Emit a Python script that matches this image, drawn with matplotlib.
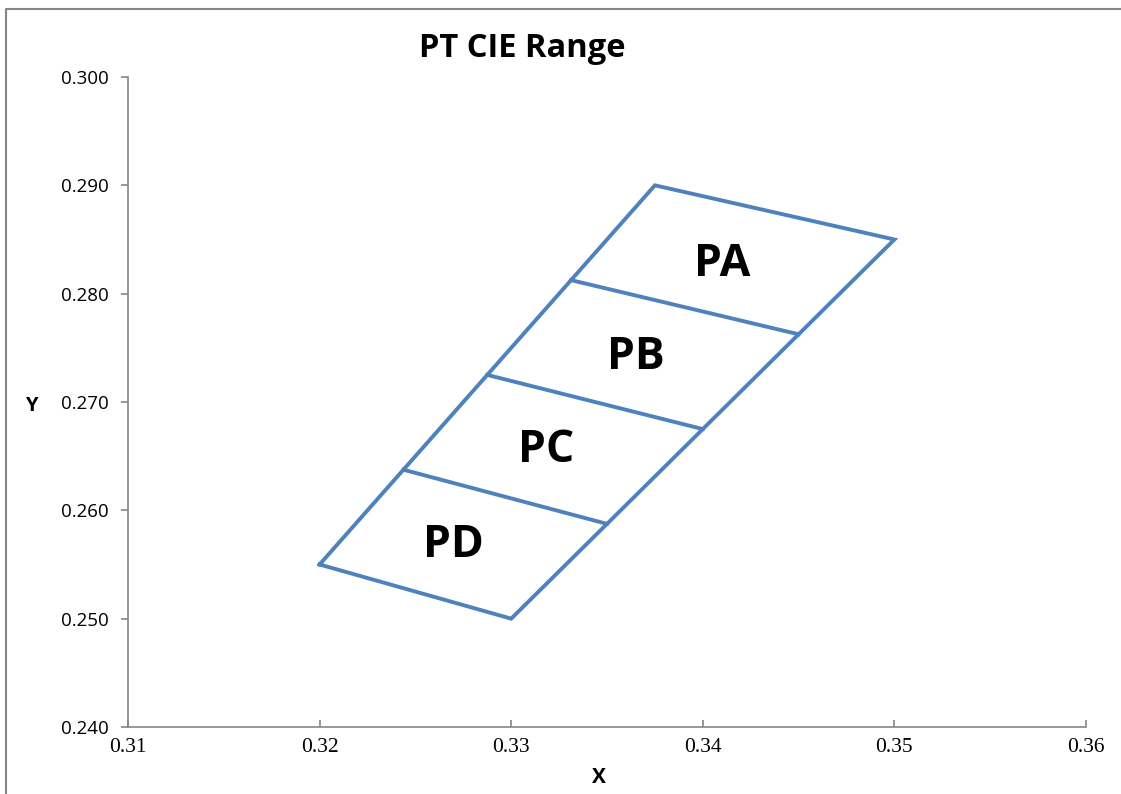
import numpy as np
import matplotlib.pyplot as plt
from matplotlib.lines import Line2D

# outline of the whole range, corners in CIE x, y
outerX = [0.32, 0.33, 0.35, 0.3375, 0.32]
outerY = [0.255, 0.250, 0.285, 0.290, 0.255]

# bin divider lines (left end -> right end)
divLeftX = [0.324375, 0.32875, 0.333125]
divLeftY = [0.26375, 0.2725, 0.28125]
divRightX = [0.335, 0.34, 0.345]
divRightY = [0.25875, 0.2675, 0.27625]

# bin names and where they are written (baseline)
binNames = ['PA', 'PB', 'PC', 'PD']
labelX = [0.3410, 0.3365, 0.3318, 0.3270]
labelY = [0.2816, 0.2730, 0.2645, 0.2557]

xTicks = [0.31, 0.32, 0.33, 0.34, 0.35, 0.36]
yTicks = [0.240, 0.250, 0.260, 0.270, 0.280, 0.290, 0.300]

lineColor = '#4F81BD'
axisColor = '#868686'

fig = plt.figure(figsize=(11.21, 7.94), dpi=100)
ax = fig.add_axes([128/1121, 1-727/794, (1086-128)/1121, (727-77)/794])

ax.plot(outerX, outerY, color=lineColor, lw=2.8, solid_joinstyle='miter')
for i in range(len(divLeftX)):
    ax.plot([divLeftX[i], divRightX[i]], [divLeftY[i], divRightY[i]], color=lineColor, lw=2.8)

for name, lx, ly in zip(binNames, labelX, labelY):
    ax.text(lx, ly, name, fontsize=32, fontweight='bold', family='Open Sans',
            ha='center', va='baseline')

ax.set_xlim(0.31, 0.36)
ax.set_ylim(0.240, 0.300)
ax.set_xticks(xTicks)
ax.set_yticks(yTicks)
ax.set_xticklabels(['%.2f' % v for v in xTicks], family='Liberation Serif', fontsize=15.5)
ax.set_yticklabels(['%.3f' % v for v in yTicks], family='Open Sans', fontsize=13.5)

for s in ['top', 'right']:
    ax.spines[s].set_visible(False)
for s in ['left', 'bottom']:
    ax.spines[s].set_color(axisColor)
    ax.spines[s].set_linewidth(1.2)
ax.tick_params(axis='x', direction='in', length=5, color=axisColor, width=1.2, pad=8)
ax.tick_params(axis='y', direction='out', length=5, color=axisColor, width=1.2, pad=9)

fig.text(522/1121, 1-57/794, 'PT CIE Range', fontsize=23.5, fontweight='bold',
         family='Open Sans', ha='center', va='baseline')
fig.text(599/1121, 1-783/794, 'X', fontsize=15, fontweight='bold',
         family='Open Sans', ha='center', va='baseline')
fig.text(31/1121, 1-411/794, 'Y', fontsize=14.5, fontweight='bold',
         family='Open Sans', ha='center', va='baseline')

# chart frame (only left and top visible in the picture)
fig.add_artist(Line2D([6/1121, 6/1121, 1.0], [0.0, 1-9/794, 1-9/794],
                      transform=fig.transFigure, color=axisColor, lw=1.5))

fig.savefig('out.png', dpi=100)
